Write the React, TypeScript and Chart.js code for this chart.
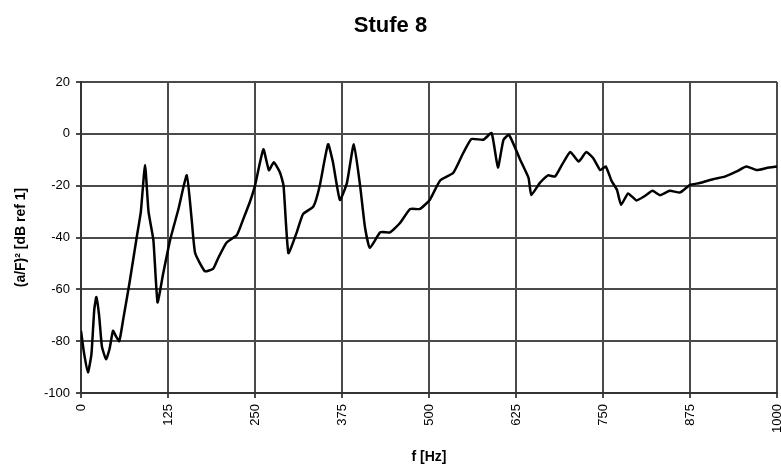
import React, { useEffect, useRef } from "react";
import { Chart, registerables } from "chart.js";

Chart.register(...registerables);

const chartTitle = "Stufe 8";
const xAxisTitle = "f [Hz]";
const yAxisTitle = "(a/F)² [dB ref 1]";

const frequencies = [
  0, 4, 10, 15, 19, 22, 26, 30, 36, 41, 46, 50, 55, 61, 70, 80, 86, 92, 97, 104,
  110, 118, 128, 140, 152, 159, 164, 178, 190, 197, 209, 224, 233, 243, 250, 262,
  270, 277, 286, 291, 298, 310, 319, 334, 343, 355, 362, 372, 382, 392, 401, 408,
  415, 430, 444, 458, 473, 487, 501, 516, 535, 549, 561, 578, 590, 599, 607, 615,
  631, 643, 647, 659, 671, 681, 691, 703, 715, 726, 736, 746, 754, 762, 770, 776,
  786, 798, 810, 821, 832, 846, 861, 875, 889, 908, 925, 942, 956, 971, 985, 1000,
];

const levels = [
  -76, -84, -92, -85, -68, -63, -70, -82, -87, -83, -76, -78, -80, -71, -57, -40, -30, -12, -30, -41,
  -65, -54, -41, -29, -16, -33, -46, -53, -52, -48, -42, -39, -33, -26, -20, -6,
  -14, -11, -15, -20, -46, -38, -31, -28, -20, -4, -11, -25.5, -19, -4, -20, -36,
  -44, -38, -38, -34.5, -29, -29, -25.5, -18, -15, -7.5, -2, -2.3, 0.3, -13, -2.3, -0.4,
  -10, -17, -23.6, -19, -16, -16.5, -12, -7, -10.7, -7, -9.4, -14, -12.6, -18, -21.6, -27.4,
  -23, -25.7, -24, -22, -23.7, -22, -22.6, -19.7, -19, -17.5, -16.5, -14.5, -12.6, -14, -13.2, -12.6,
];

const xMin = 0;
const xMax = 1000;
const xStep = 125;
const yMin = -100;
const yMax = 20;
const yStep = 20;

export default function App() {
  const canvasRef = useRef<HTMLCanvasElement | null>(null);

  useEffect(() => {
    const canvas = canvasRef.current;
    if (!canvas) return;
    const points = frequencies.map((f, i) => ({ x: f, y: levels[i] }));
    const gridColor = "#4a4a4a";
    const chart = new Chart(canvas, {
      type: "line",
      data: {
        datasets: [
          {
            data: points,
            borderColor: "#000000",
            borderWidth: 2.5,
            pointRadius: 0,
            tension: 0.15,
            fill: false,
          },
        ],
      },
      options: {
        animation: false,
        responsive: false,
        layout: { padding: 0 },
        plugins: {
          legend: { display: false },
          tooltip: { enabled: false },
          title: {
            display: true,
            text: chartTitle,
            color: "#000",
            font: { family: "'Liberation Sans', Arial, sans-serif", size: 22, weight: "bold" },
            padding: { top: 13, bottom: 42.6 },
          },
        },
        scales: {
          x: {
            type: "linear",
            min: xMin,
            max: xMax,
            ticks: {
              stepSize: xStep,
              minRotation: 90,
              maxRotation: 90,
              color: "#000",
              padding: 6,
              font: { family: "'Liberation Sans', Arial, sans-serif", size: 13 },
              callback: (v: any) => String(v),
            },
            grid: { color: gridColor, lineWidth: 2, tickLength: 5 },
            border: { color: "#333", width: 2 },
            title: {
              display: true,
              text: xAxisTitle,
              color: "#000",
              font: { family: "'Liberation Sans', Arial, sans-serif", size: 14, weight: "bold" },
              padding: { top: 0, bottom: 0 },
            },
            afterFit: (scale: any) => {
              scale.height = 73;
              scale.paddingRight = 4;
              scale.paddingLeft = 0;
            },
          },
          y: {
            type: "linear",
            min: yMin,
            max: yMax,
            ticks: {
              stepSize: yStep,
              color: "#000",
              padding: 6,
              font: { family: "'Liberation Sans', Arial, sans-serif", size: 13 },
              callback: (v: any) => String(v),
            },
            grid: { color: gridColor, lineWidth: 2, tickLength: 5 },
            border: { color: "#333", width: 2 },
            title: {
              display: true,
              text: yAxisTitle,
              color: "#000",
              font: { family: "'Liberation Sans', Arial, sans-serif", size: 14, weight: "bold" },
              padding: { top: 12.6, bottom: 0 },
            },
            afterFit: (scale: any) => {
              scale.width = 81;
              scale.paddingTop = 0;
              scale.paddingBottom = 0;
            },
          },
        },
      },
    });
    return () => chart.destroy();
  }, []);

  return (
    <div style={{ position: "fixed", left: 0, top: 0, width: 781, height: 466, background: "#fff" }}>
      <canvas ref={canvasRef} width={781} height={466} style={{ display: "block" }} />
    </div>
  );
}
